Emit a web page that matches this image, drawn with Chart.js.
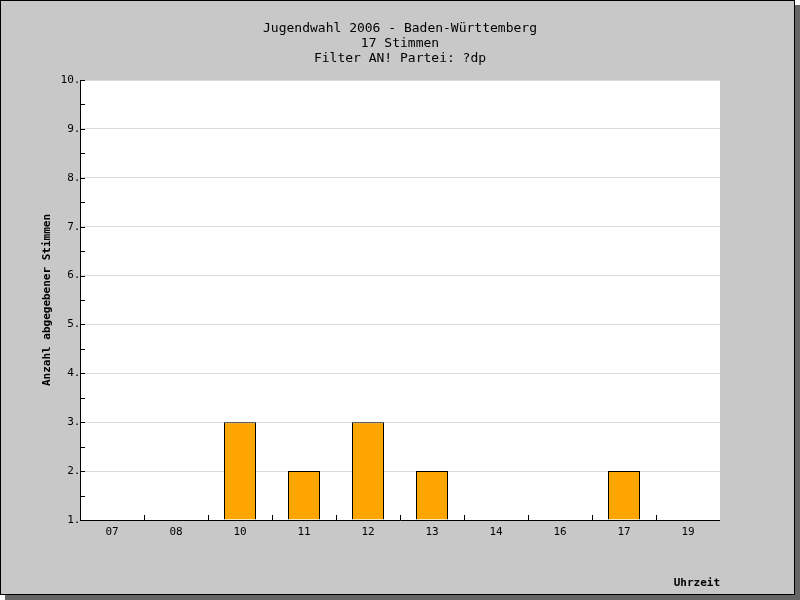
<!DOCTYPE html>
<html><head><meta charset="utf-8">
<script src="https://cdn.jsdelivr.net/npm/chart.js@4"></script>
<style>
body{margin:0;background:#fff}
#wrap{position:absolute;left:0;top:0;width:793px;height:593px;border:1px solid #000;background:#c8c8c8;box-shadow:5px 5px 0 #666}
canvas{display:block}
</style></head><body>
<div id="wrap"><canvas id="c" width="793" height="593"></canvas></div>
<script>
const hours = ["07","08","10","11","12","13","14","16","17","19"];
const votes = [null,null,3,2,3,2,null,null,2,null];
const titleLines = ["Jugendwahl 2006 - Baden-Württemberg","17 Stimmen","Filter AN! Partei: ?dp"];
const FONT = "'DejaVu Sans Mono', monospace";

const decor = {
  id: "decor",
  beforeDraw(chart) {
    const ctx = chart.ctx, a = chart.chartArea;
    ctx.save();
    ctx.fillStyle = "#fff";
    ctx.fillRect(a.left, a.top, a.right - a.left, a.bottom - a.top);
    ctx.fillStyle = "#000";
    ctx.font = "13px " + FONT;
    ctx.textAlign = "center";
    titleLines.forEach((t, i) => ctx.fillText(t, 399, 31 + i * 15));
    ctx.restore();
  },
  afterDraw(chart) {
    const ctx = chart.ctx, a = chart.chartArea;
    const y = chart.scales.y, x = chart.scales.x;
    ctx.save();
    ctx.strokeStyle = "#000"; ctx.lineWidth = 1;
    ctx.beginPath();
    ctx.moveTo(a.left + 0.5, a.top); ctx.lineTo(a.left + 0.5, a.bottom + 0.5); ctx.lineTo(a.right, a.bottom + 0.5);
    for (let v = 1; v <= 10; v += 0.5) {
      const p = Math.round(y.getPixelForValue(v)) + 0.5;
      ctx.moveTo(a.left, p); ctx.lineTo(a.left + 5, p);
    }
    for (let i = 1; i < hours.length; i++) {
      const p = Math.round((x.getPixelForTick(i - 1) + x.getPixelForTick(i)) / 2) + 0.5;
      ctx.moveTo(p, a.bottom); ctx.lineTo(p, a.bottom - 5);
    }
    ctx.stroke();
    ctx.restore();
  }
};

new Chart(document.getElementById("c"), {
  type: "bar",
  data: {
    labels: hours,
    datasets: [{
      data: votes,
      backgroundColor: "#ffa500",
      borderColor: "#000",
      borderWidth: 1,
      barPercentage: 0.5,
      categoryPercentage: 1,
      base: 1
    }]
  },
  options: {
    responsive: false,
    animation: false,
    layout: { padding: { top: 79, right: 74, left: 40, bottom: 0 } },
    plugins: { legend: { display: false }, title: { display: false }, tooltip: { enabled: false } },
    scales: {
      x: {
        grid: { display: false, drawTicks: false },
        border: { display: false },
        ticks: { color: "#000", font: { family: FONT, size: 11 }, padding: 6, maxRotation: 0 },
        title: { display: true, text: "Uhrzeit", align: "end", color: "#000", font: { family: FONT, size: 11, weight: "bold" }, padding: { top: 8 } },
        afterFit(s) { s.height = 74; }
      },
      y: {
        min: 1, max: 10,
        grid: { color: c => (c.tick && Number.isInteger(c.tick.value)) ? "#dcdcdc" : "rgba(0,0,0,0)", drawTicks: false },
        border: { display: false },
        ticks: { stepSize: 0.5, color: "#000", font: { family: FONT, size: 11 }, padding: -7,
          callback: v => Number.isInteger(v) ? v.toFixed(1) : "" },
        title: { display: true, text: "Anzahl abgegebener Stimmen", color: "#000", font: { family: FONT, size: 11, weight: "bold" }, padding: 0 },
        afterFit(s) { s.width = 39; }
      }
    }
  },
  plugins: [decor]
});
</script></body></html>
